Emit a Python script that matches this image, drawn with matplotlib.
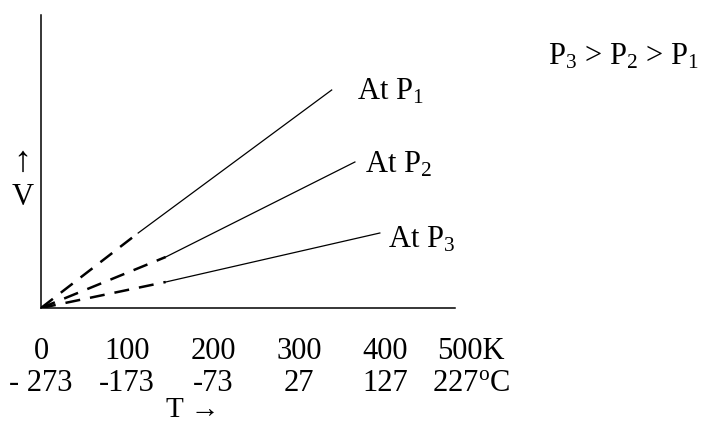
import matplotlib
matplotlib.use("Agg")
import matplotlib.pyplot as plt

plt.rcParams['font.family'] = ['Liberation Serif', 'DejaVu Serif']
plt.rcParams['mathtext.fontset'] = 'custom'
plt.rcParams['mathtext.rm'] = 'Liberation Serif'
plt.rcParams['mathtext.it'] = 'Liberation Serif'

# Charles' law sketch: V against T at three pressures (arbitrary V units)
labels = ['At P$_1$', 'At P$_2$', 'At P$_3$']
t_start = [113, 145, 145]    # where the measured (solid) part begins, K
v_start = [75, 51, 26]
t_end = [338, 365, 394]
v_end = [218, 146, 75]

kelvin = [0, 100, 200, 300, 400, 500]
k_labels = ['0', '100', '200', '300', '400', '500K']
c_labels = ['- 273', '-173', '-73', '27', '127', '227$^{\\rm o}$C']

fig = plt.figure(figsize=(7.03, 4.28), dpi=100)
ax = fig.add_axes([41/703, 120/428, 500*0.86/703, 293/428])

label_offsets = [(25, -2), (10, -3), (8, -7)]
for i in range(3):
    ax.plot([0, t_start[i]], [0, v_start[i]], color='black', lw=1.8,
            ls=(0, (6, 4)), solid_capstyle='butt')
    ax.plot([t_start[i], t_end[i]], [v_start[i], v_end[i]], color='black', lw=0.9)
    ax.annotate(labels[i], (t_end[i], v_end[i]), xytext=label_offsets[i],
                textcoords='offset pixels', ha='left', va='center', fontsize=22)

ax.set_xticks(kelvin)
ax.set_xticklabels([k + '\n' + c for k, c in zip(k_labels, c_labels)], fontsize=22,
                   linespacing=1.12)
ax.tick_params(axis='x', length=0, pad=21)
ax.set_xlim(0, 500)
ax.set_ylim(0, 293)
ax.spines['top'].set_visible(False)
ax.spines['right'].set_visible(False)
ax.spines['left'].set_linewidth(1.1)
ax.spines['bottom'].set_linewidth(1.1)
ax.spines['bottom'].set_bounds(0, 414/0.86)
ax.set_yticks([])

ax.set_xlabel('T \u2192', fontsize=21)
ax.xaxis.set_label_coords((193 - 41)/430, -0.305)

fig.text(23/703, 1 - 197/428, 'V', fontsize=22, ha='center', va='center')
fig.text(22/703, 1 - 162/428, '\u2191', fontsize=26, ha='center', va='center')
fig.text(548/703, 1 - 57/428, 'P$_3$ > P$_2$ > P$_1$', fontsize=22, ha='left', va='center')

fig.savefig('out.png', dpi=100)
